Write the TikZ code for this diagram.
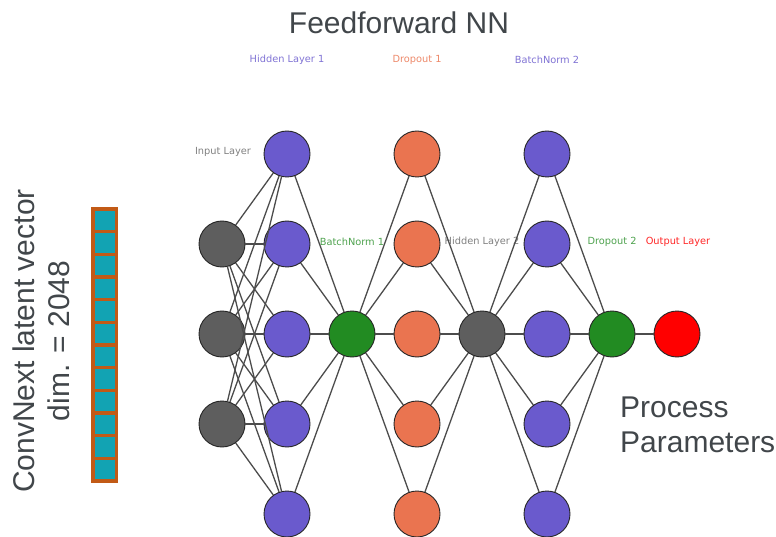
\documentclass[tikz,border=0pt]{standalone}
\usepackage{fontspec}
\setmainfont{Liberation Sans}
\newfontfamily\smallfont{DejaVu Sans}
\usepackage{tikz}
\usetikzlibrary{positioning}
\definecolor{nnpurple}{HTML}{6A5ACD}
\definecolor{nnorange}{HTML}{EA7450}
\definecolor{nngray}{HTML}{5E5E5E}
\definecolor{nngreen}{HTML}{228B22}
\definecolor{nnred}{HTML}{FF0000}
\definecolor{vecteal}{HTML}{12A3B3}
\definecolor{vecrim}{HTML}{C25A16}
\definecolor{txtgray}{HTML}{41464A}

\begin{document}
\begin{tikzpicture}[x=1pt,y=-1pt,node distance=90pt and 65pt,on grid,
    neuron/.style={circle,draw=black!85,line width=0.9pt,minimum size=46pt,inner sep=0pt},
    lbl/.style={font=\smallfont\fontsize{9.8}{11}\selectfont,inner sep=0pt},
    big/.style={font=\fontsize{30}{35}\selectfont,text=txtgray,inner sep=0pt},
    link/.style={draw=black!70,line width=1.3pt}]
  \useasboundingbox (0,0) rectangle (776,537);

  \node[big] (title) at (399,23) {Feedforward NN};
  \node[big,rotate=90,align=center] (vlab) at (41,341) {ConvNext latent vector\\dim. = 2048};
  \node[big,align=left,anchor=west] (pp) at (620,425) {Process\\Parameters};

  % latent vector
  \foreach \k in {0,...,11}
    \draw[vecrim,fill=vecteal,line width=3.5pt] (93,209+22.67*\k) rectangle +(23.5,22.67);

  % layer labels
  \node[lbl,text=nnpurple!85] (l1) at (287,60) {Hidden Layer 1};
  \node[lbl,text=nnorange!85] (l2) at (417,60) {Dropout 1};
  \node[lbl,text=nnpurple!85] (l3) at (547,60) {BatchNorm 2};
  \node[lbl,text=black!50] (l0) at (223,152) {Input Layer};
  \node[lbl,text=nngreen!80] (l4) at (352,242) {BatchNorm 1};
  \node[lbl,text=black!50] (l5) at (482,242) {Hidden Layer 2};
  \node[lbl,text=nngreen!80] (l6) at (612,242) {Dropout 2};
  \node[lbl,text=nnred!85] (l7) at (678,242) {Output Layer};

  % hidden layer 1
  \node[neuron,fill=nnpurple] (a2) at (287,334) {};
  \node[neuron,fill=nnpurple] (a1) [above=of a2] {};
  \node[neuron,fill=nnpurple] (a0) [above=of a1] {};
  \node[neuron,fill=nnpurple] (a3) [below=of a2] {};
  \node[neuron,fill=nnpurple] (a4) [below=of a3] {};

  % input layer
  \node[neuron,fill=nngray] (x1) [left=of a2] {};
  \node[neuron,fill=nngray] (x0) [above=of x1] {};
  \node[neuron,fill=nngray] (x2) [below=of x1] {};

  \node[neuron,fill=nngreen] (bn) [right=of a2] {};

  % dropout 1
  \node[neuron,fill=nnorange] (d2) [right=of bn] {};
  \node[neuron,fill=nnorange] (d1) [above=of d2] {};
  \node[neuron,fill=nnorange] (d0) [above=of d1] {};
  \node[neuron,fill=nnorange] (d3) [below=of d2] {};
  \node[neuron,fill=nnorange] (d4) [below=of d3] {};

  \node[neuron,fill=nngray] (h) [right=of d2] {};

  % batchnorm 2
  \node[neuron,fill=nnpurple] (b2) [right=of h] {};
  \node[neuron,fill=nnpurple] (b1) [above=of b2] {};
  \node[neuron,fill=nnpurple] (b0) [above=of b1] {};
  \node[neuron,fill=nnpurple] (b3) [below=of b2] {};
  \node[neuron,fill=nnpurple] (b4) [below=of b3] {};

  \node[neuron,fill=nngreen] (dr) [right=of b2] {};
  \node[neuron,fill=nnred] (y) [right=of dr] {};

  \path [link]
    (x0) edge (a0) (x0) edge (a1) (x0) edge (a2) (x0) edge (a3) (x0) edge (a4)
    (x1) edge (a0) (x1) edge (a1) (x1) edge (a2) (x1) edge (a3) (x1) edge (a4)
    (x2) edge (a0) (x2) edge (a1) (x2) edge (a2) (x2) edge (a3) (x2) edge (a4)

    (a0) edge (bn) (a1) edge (bn) (a2) edge (bn) (a3) edge (bn) (a4) edge (bn)
    (bn) edge (d0) (bn) edge (d1) (bn) edge (d2) (bn) edge (d3) (bn) edge (d4)

    (d0) edge (h) (d1) edge (h) (d2) edge (h) (d3) edge (h) (d4) edge (h)
    (h) edge (b0) (h) edge (b1) (h) edge (b2) (h) edge (b3) (h) edge (b4)

    (b0) edge (dr) (b1) edge (dr) (b2) edge (dr) (b3) edge (dr) (b4) edge (dr)
    (dr) edge (y);

\end{tikzpicture}
\end{document}
